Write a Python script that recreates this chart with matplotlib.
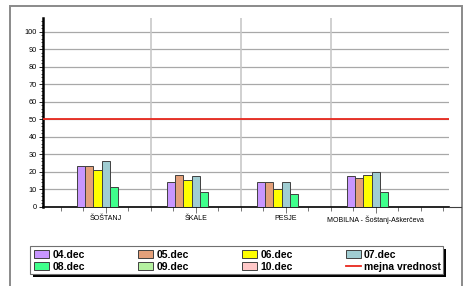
import numpy as np
import matplotlib
matplotlib.use('Agg')
import matplotlib.pyplot as plt
from matplotlib.patches import Rectangle, Patch
from matplotlib.lines import Line2D
from matplotlib.ticker import MultipleLocator

plt.rcParams['font.family'] = ['Liberation Sans', 'DejaVu Sans']

# ========== data ==========
locations = ['ŠOŠTANJ', 'ŠKALE', 'PESJE', 'MOBILNA - Šoštanj-Aškerčeva']
days = ['04.dec', '05.dec', '06.dec', '07.dec', '08.dec', '09.dec', '10.dec']
values = {
    '04.dec': [23, 14.3, 14.3, 17.5],
    '05.dec': [23, 18, 14.3, 16.2],
    '06.dec': [21, 15, 10, 18],
    '07.dec': [26, 17.4, 14.3, 19.8],
    '08.dec': [11, 8.2, 7, 8.2],
    '09.dec': [np.nan, np.nan, np.nan, np.nan],
    '10.dec': [np.nan, np.nan, np.nan, np.nan],
}
limit_value = 50
limit_label = 'mejna vrednost'

colors = ['#c896ff', '#e4a07a', '#ffff00', '#a0cdd2', '#40ff8c', '#b4f0a0', '#ffc8c8']

W, H = 463, 286
fig = plt.figure(figsize=(W / 100, H / 100), dpi=100)

# outer frame
fig.patches.append(Rectangle((10 / W, -0.05), 451.5 / W, (H - 6) / H + 0.05,
                             transform=fig.transFigure, fill=False,
                             edgecolor='#8a8a8a', lw=1.4))

ax = fig.add_axes([43 / W, (H - 206.7) / H, (449 - 43) / W, (206.7 - 18) / H])
ax.set_xlim(-0.697, 3.814)
ax.set_ylim(0, 107.8)

x = np.arange(len(locations))
bw = 0.091
n = len(days)
for i, d in enumerate(days):
    ax.bar(x + (i - (n - 1) / 2) * bw, values[d], width=bw, color=colors[i],
           edgecolor='#404040', lw=0.7, zorder=3)

# grid
for v in range(10, 101, 10):
    ax.axhline(v, color='#a8a8a8', lw=0.9, zorder=1)
for s in [0.5, 1.5, 2.5]:
    ax.axvline(s, color='#c8c8c8', lw=1.2, zorder=1)
ax.axhline(limit_value, color='#e8281e', lw=1.3, zorder=4)

for sp in ['top', 'right']:
    ax.spines[sp].set_visible(False)
ax.spines['left'].set_linewidth(1.8)
ax.spines['bottom'].set_linewidth(1.2)

ax.set_xticks(x)
ax.set_xticklabels(locations, fontsize=5)
ax.xaxis.set_minor_locator(MultipleLocator(0.25))
ax.tick_params(axis='x', which='major', length=4, width=0.6, pad=2, color='#606060')
ax.tick_params(axis='x', which='minor', length=3, width=0.6, color='#606060')
ax.set_yticks(range(0, 101, 10))
ax.yaxis.set_minor_locator(MultipleLocator(2))
ax.tick_params(axis='y', which='major', length=3, width=0.6, labelsize=5.3, pad=1.5)
ax.tick_params(axis='y', which='minor', length=1.5, width=0.5)

# x axis extends to the frame
fig.add_artist(Line2D([449 / W, 461 / W], [(H - 207) / H] * 2,
                      transform=fig.transFigure, color='#404040', lw=0.8))

# legend (matplotlib fills columns first, so order is interleaved by row)
items = []
for i, d in enumerate(days):
    items.append(Patch(facecolor=colors[i], edgecolor='#404040', lw=0.7, label=d))
items.append(Line2D([0], [0], color='#e8281e', lw=1.3, label=limit_label))
ncol = 4
handles = [items[r * ncol + c] for c in range(ncol) for r in range(2)]

x0, x1, y0, y1 = 30, 443, 246, 274
fig.patches.append(Rectangle((x0 / W + 2.5 / W, (H - y1) / H - 2.5 / H), (x1 - x0) / W, (y1 - y0) / H,
                             transform=fig.transFigure, facecolor='black', edgecolor='none'))
fig.patches.append(Rectangle((x0 / W, (H - y1) / H), (x1 - x0) / W, (y1 - y0) / H,
                             transform=fig.transFigure, facecolor='white', edgecolor='#707070', lw=0.8))
leg = fig.legend(handles=handles, ncol=ncol, loc='lower left', mode='expand',
                 bbox_to_anchor=(33 / W, (H - y1 + 1) / H, (x1 - x0 - 4) / W, (y1 - y0 - 2) / H),
                 frameon=False, prop={'weight': 'bold', 'size': 7.5},
                 handlelength=1.45, handleheight=0.8, handletextpad=0.3,
                 labelspacing=0.2, borderaxespad=0, borderpad=0.1, columnspacing=0.5)

fig.savefig('out.png', dpi=100)
